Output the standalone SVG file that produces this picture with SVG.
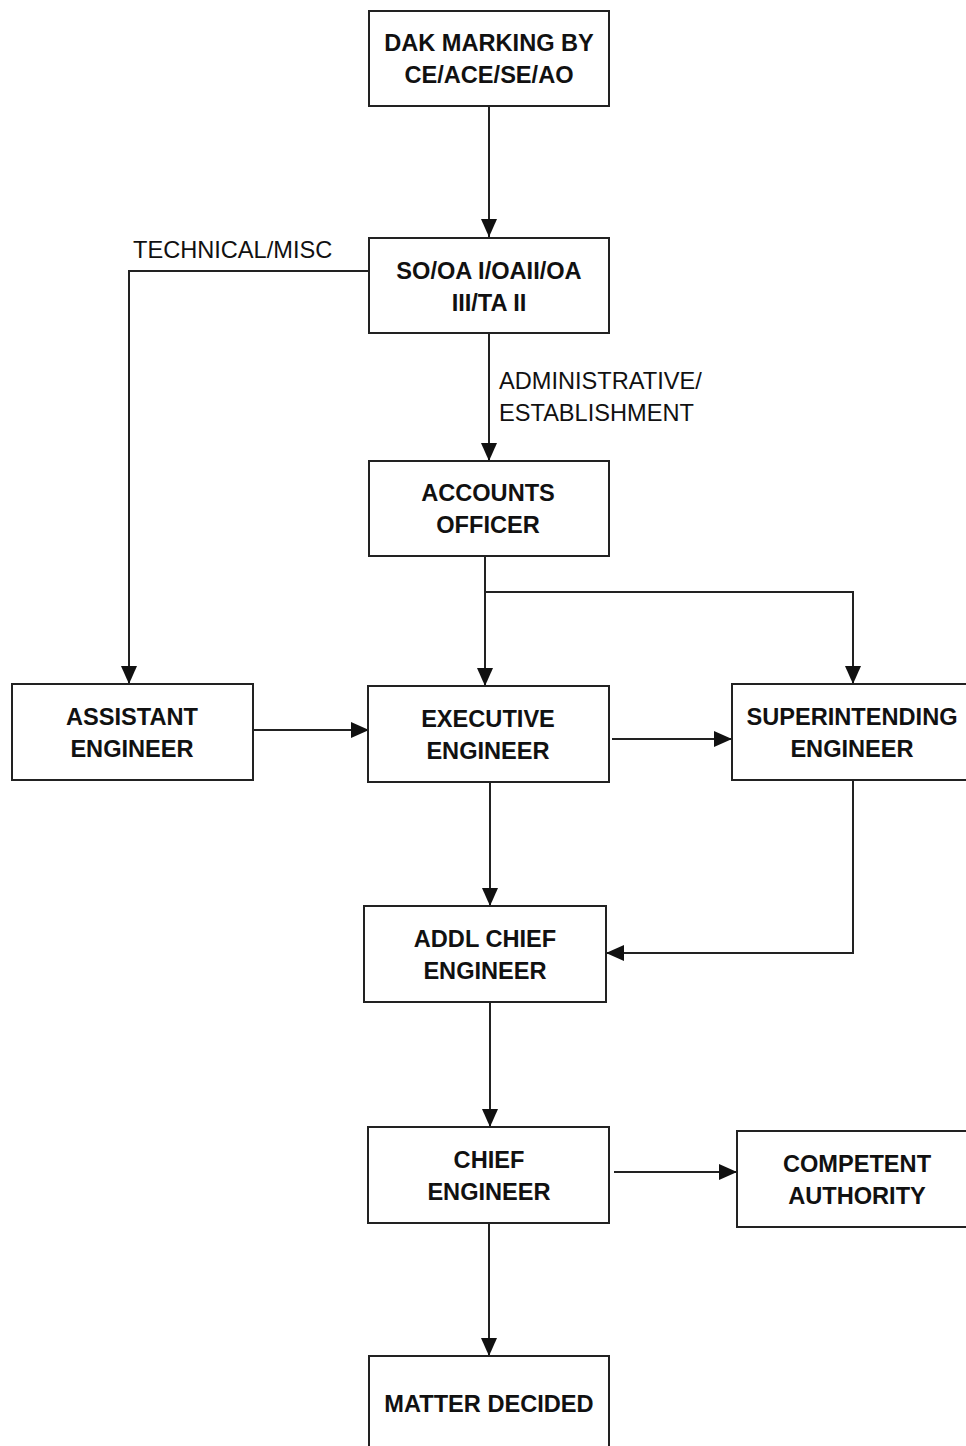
<svg xmlns="http://www.w3.org/2000/svg" width="966" height="1446" viewBox="0 0 966 1446">
<style>
.box{fill:#fff;stroke:#222;stroke-width:2}
.t{font-family:"Liberation Sans",Arial,sans-serif;font-weight:bold;font-size:23.6px;fill:#111;text-anchor:middle}
.l{font-family:"Liberation Sans",Arial,sans-serif;font-size:23.6px;fill:#111}
.c{fill:none;stroke:#222;stroke-width:2}
</style>
<defs>
<marker id="ah" markerUnits="userSpaceOnUse" markerWidth="18" markerHeight="16" refX="18" refY="8" orient="auto">
<path d="M0,0 L18,8 L0,16 Z" fill="#111"/>
</marker>
</defs>
<rect width="966" height="1446" fill="#fff"/>
<g id="connectors">
<path class="c" d="M489,106 V237" marker-end="url(#ah)"/>
<path class="c" d="M369,271 H129 V684" marker-end="url(#ah)"/>
<path class="c" d="M489,333 V461" marker-end="url(#ah)"/>
<path class="c" d="M485,556 V686" marker-end="url(#ah)"/>
<path class="c" d="M485,592 H853 V684" marker-end="url(#ah)"/>
<path class="c" d="M253,730 H369" marker-end="url(#ah)"/>
<path class="c" d="M612,739 H732" marker-end="url(#ah)"/>
<path class="c" d="M490,782 V906" marker-end="url(#ah)"/>
<path class="c" d="M853,780 V953 H606" marker-end="url(#ah)"/>
<path class="c" d="M490,1002 V1127" marker-end="url(#ah)"/>
<path class="c" d="M614,1172 H737" marker-end="url(#ah)"/>
<path class="c" d="M489,1223 V1356" marker-end="url(#ah)"/>
</g>
<g id="label-technical"><text class="l" x="133" y="258">TECHNICAL/MISC</text></g>
<g id="label-admin"><text class="l" x="499" y="389">ADMINISTRATIVE/</text><text class="l" x="499" y="421">ESTABLISHMENT</text></g>
<g id="dak"><rect class="box" x="369" y="11" width="240" height="95"/><text class="t" x="489" y="51">DAK MARKING BY</text><text class="t" x="489" y="83">CE/ACE/SE/AO</text></g>
<g id="so"><rect class="box" x="369" y="238" width="240" height="95"/><text class="t" x="489" y="279">SO/OA I/OAII/OA</text><text class="t" x="489" y="311">III/TA II</text></g>
<g id="ao"><rect class="box" x="369" y="461" width="240" height="95"/><text class="t" x="488" y="501">ACCOUNTS</text><text class="t" x="488" y="533">OFFICER</text></g>
<g id="ae"><rect class="box" x="12" y="684" width="241" height="96"/><text class="t" x="132" y="725">ASSISTANT</text><text class="t" x="132" y="757">ENGINEER</text></g>
<g id="ee"><rect class="box" x="368" y="686" width="241" height="96"/><text class="t" x="488" y="727">EXECUTIVE</text><text class="t" x="488" y="759">ENGINEER</text></g>
<g id="se"><rect class="box" x="732" y="684" width="240" height="96"/><text class="t" x="852" y="725">SUPERINTENDING</text><text class="t" x="852" y="757">ENGINEER</text></g>
<g id="ace"><rect class="box" x="364" y="906" width="242" height="96"/><text class="t" x="485" y="947">ADDL CHIEF</text><text class="t" x="485" y="979">ENGINEER</text></g>
<g id="ce"><rect class="box" x="368" y="1127" width="241" height="96"/><text class="t" x="489" y="1168">CHIEF</text><text class="t" x="489" y="1200">ENGINEER</text></g>
<g id="ca"><rect class="box" x="737" y="1131" width="240" height="96"/><text class="t" x="857" y="1172">COMPETENT</text><text class="t" x="857" y="1204">AUTHORITY</text></g>
<g id="md"><rect class="box" x="369" y="1356" width="240" height="100"/><text class="t" x="489" y="1412">MATTER DECIDED</text></g>
</svg>
